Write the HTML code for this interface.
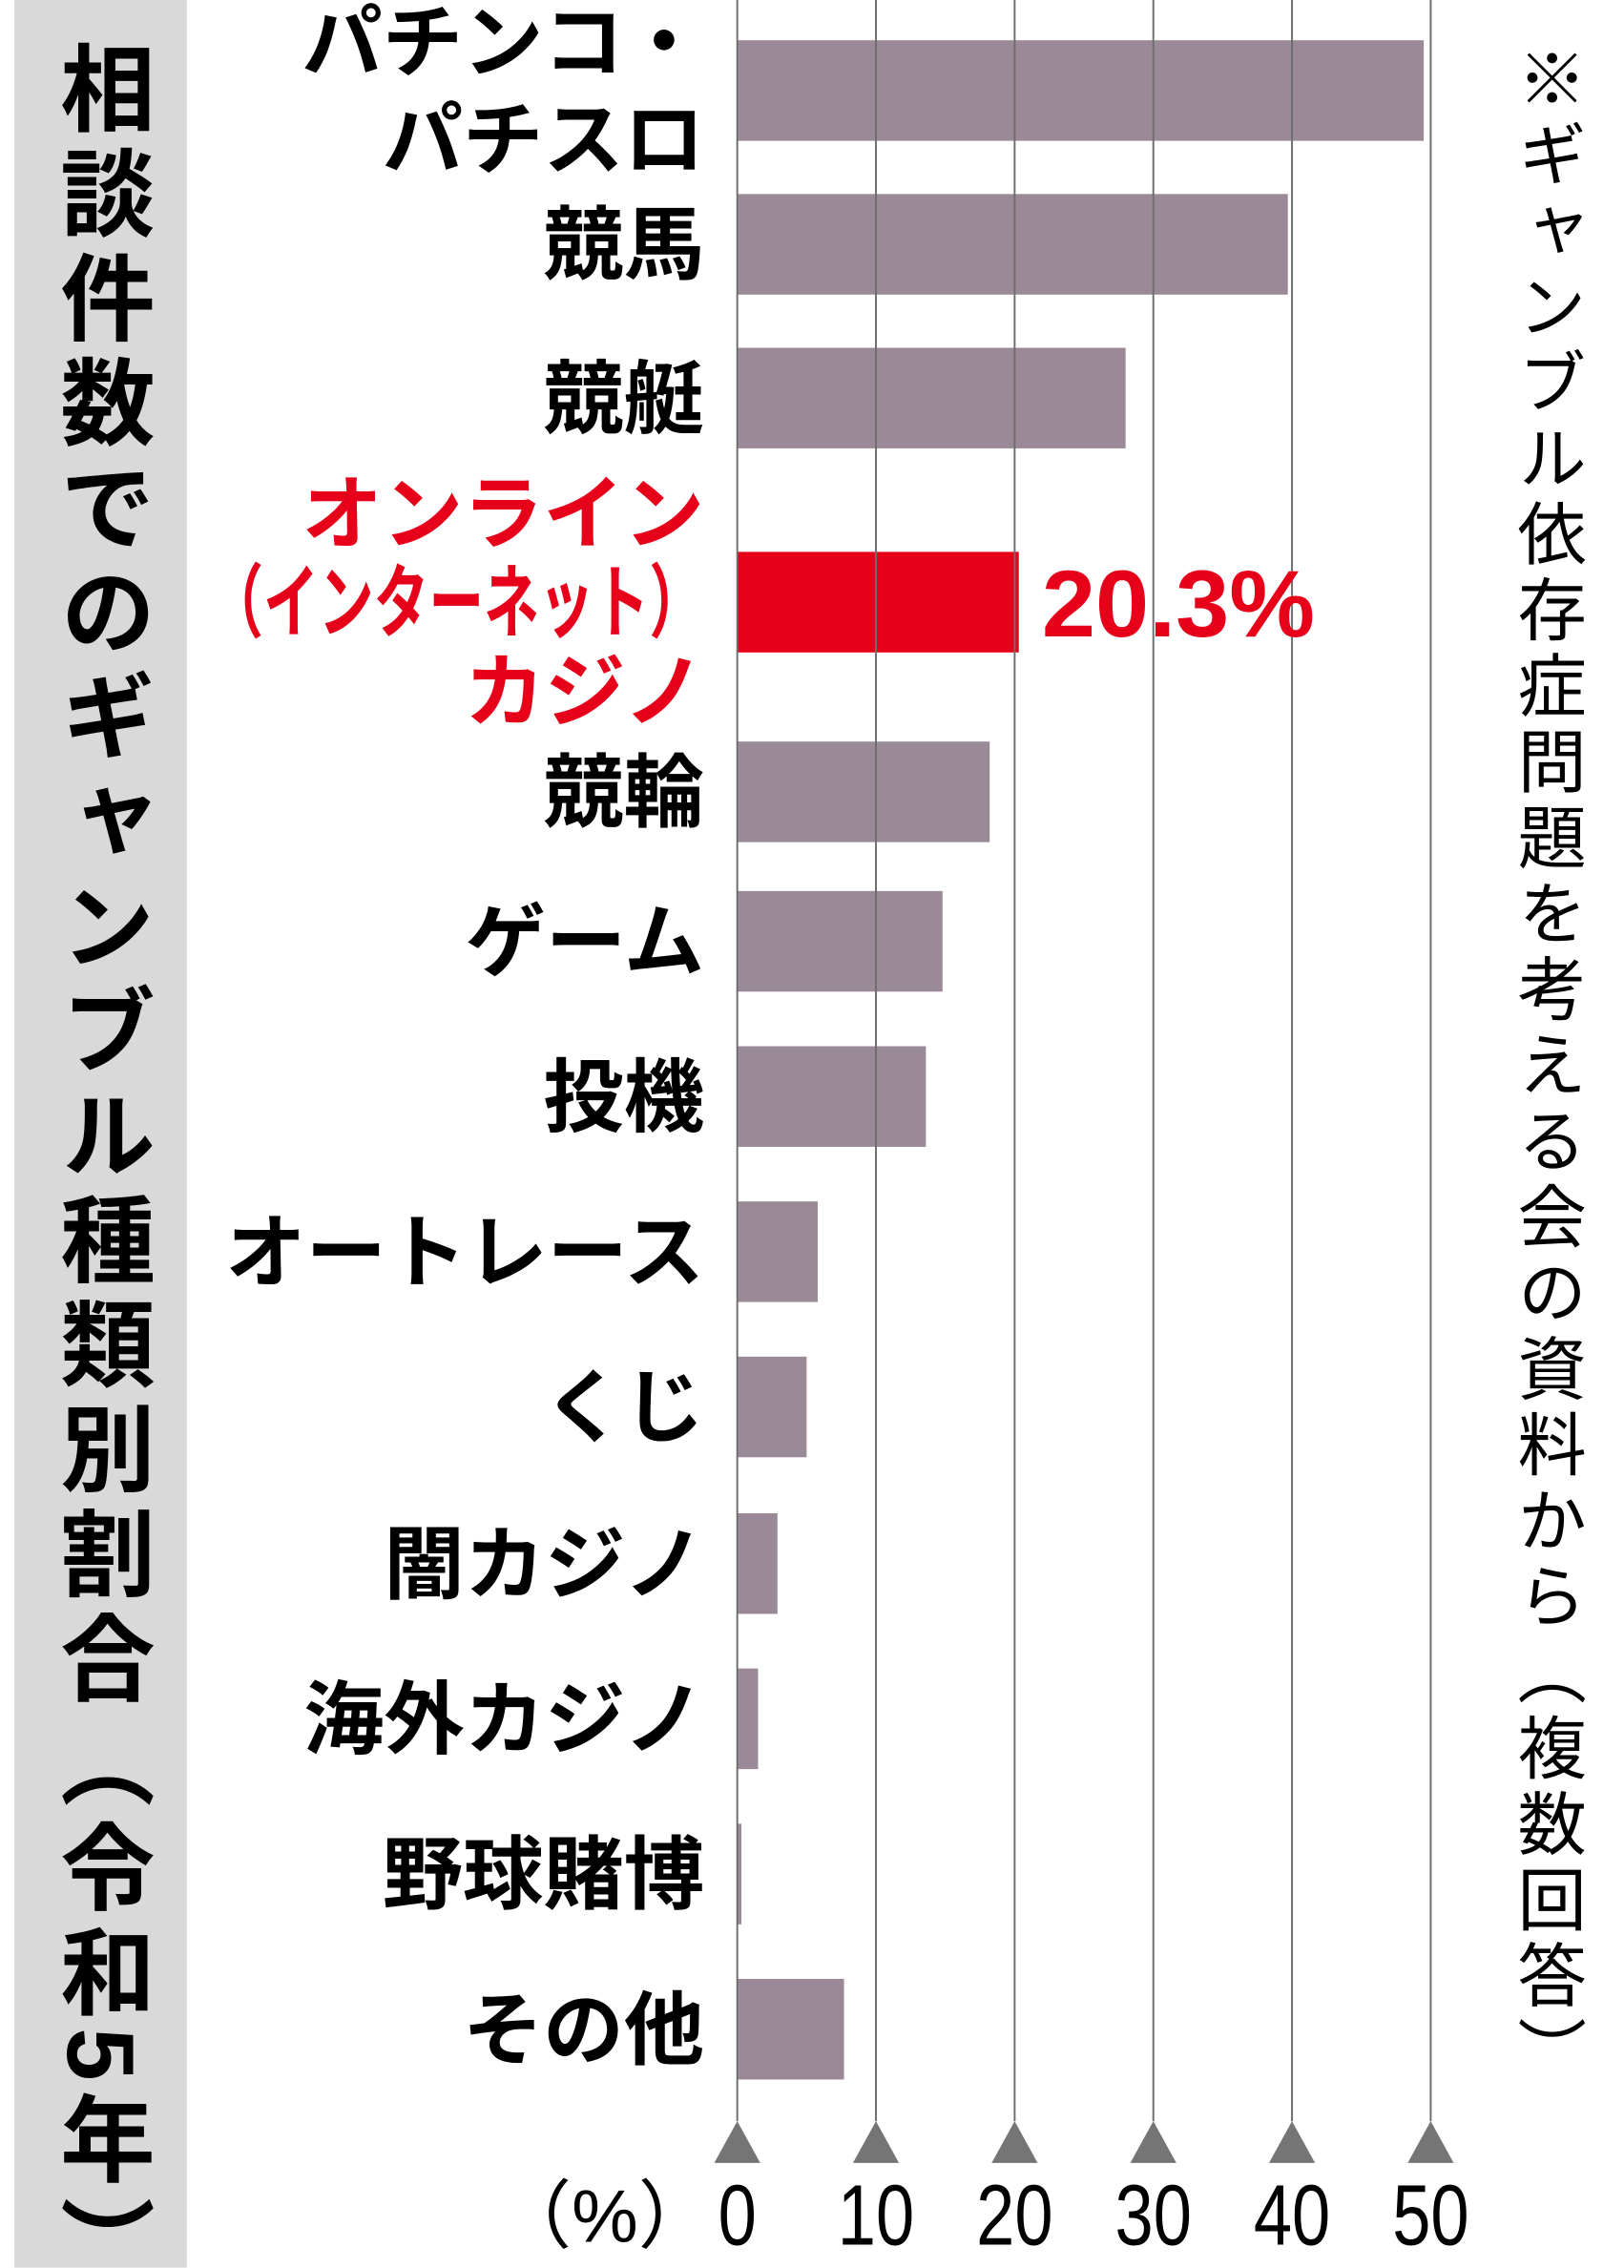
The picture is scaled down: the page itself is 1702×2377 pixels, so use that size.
<!DOCTYPE html>
<html><head><meta charset="utf-8"><style>
html,body{margin:0;padding:0;background:#fff;}
#root{position:relative;width:1130px;height:1578px;transform:scale(1.50619);transform-origin:0 0;overflow:hidden;font-family:"Liberation Sans","Noto Sans CJK JP",sans-serif;}
.vt{position:absolute;writing-mode:vertical-rl;white-space:nowrap;}
svg{position:absolute;left:0;top:0;}
</style></head><body>
<div id="root">
<div style="position:absolute;left:10px;top:0;width:120px;height:1578px;background:#d9d9d9;"></div>
<div class="vt" style="left:36px;top:28px;font-size:66px;font-weight:bold;letter-spacing:6.8px;line-height:68px;">相談件数でのギャンブル種類別割合（令和5年）</div>
<div class="vt" style="left:1048px;top:30px;font-size:48px;letter-spacing:4.8px;line-height:52px;">※ギャンブル依存症問題を考える会の資料から（複数回答）</div>
<svg id="chart" width="1130" height="1578" viewBox="0 0 1130 1578"></svg>
</div>
<script>
const categories = [["パチンコ・","パチスロ"],["競馬"],["競艇"],["オンライン","（インターネット）","カジノ"],["競輪"],["ゲーム"],["投機"],["オートレース"],["くじ"],["闇カジノ"],["海外カジノ"],["野球賭博"],["その他"]];
const values = [49.5,39.7,28.0,20.3,18.2,14.8,13.6,5.8,5.0,2.9,1.5,0.3,7.7];
const highlight = [false,false,false,true,false,false,false,false,false,false,false,false,false];
const ticks = [0,10,20,30,40,50];
const highlightLabel = "20.3%";

const NS="http://www.w3.org/2000/svg";
const svg=document.getElementById('chart');
const x0=513, pxPer=9.65;
const xs=v=>x0+v*pxPer;
const centers=[63,170,277,419,551,655,763,871,979,1088,1196,1304,1412];
const ys=i=>centers[i];
function mk(tag,attrs){const e=document.createElementNS(NS,tag);for(const k in attrs)e.setAttribute(k,attrs[k]);svg.appendChild(e);return e;}
values.forEach((v,i)=>{
  const r=mk('rect',{x:xs(0),y:ys(i)-35,width:xs(v)-xs(0),height:70,fill:highlight[i]?'#e60019':'#9a8a98'});
  
  
});
ticks.forEach(t=>{
  const l=mk('line',{x1:xs(t),x2:xs(t),y1:0,y2:1476,stroke:'#6e6e6e','stroke-width':1.3});
  
  
  const p=mk('polygon',{points:`${xs(t)-16},1505 ${xs(t)+16},1505 ${xs(t)},1476`,fill:'#757575'});
  
  
  const tx=mk('text',{x:xs(t),y:1562,'text-anchor':'middle','font-size':60,'font-family':'"Liberation Sans",sans-serif',fill:'#000',transform:`translate(${xs(t)},0) scale(0.8,1) translate(${-xs(t)},0)`});
  tx.textContent=t;
  
  
});
const pu=mk('text',{x:496,y:1560,'text-anchor':'end','font-size':52,fill:'#000','font-family':'"Liberation Sans","Noto Sans CJK JP",sans-serif'});
pu.textContent='（%）';


categories.forEach((lines,i)=>{
  const n=lines.length, lh=n===3?62:68;
  lines.forEach((s,j)=>{
    const cy=ys(i)+(j-(n-1)/2)*lh;
    const t=mk('text',{x:490,y:cy+20,'text-anchor':'end','font-size':56,'font-weight':'bold',fill:highlight[i]?'#e60019':'#000','font-family':'"Liberation Sans","Noto Sans CJK JP",sans-serif'});
    t.textContent=s;
    if(s.length>8){t.setAttribute('textLength',345);t.setAttribute('lengthAdjust','spacingAndGlyphs');}
    
    
  });
});
const hi=highlight.indexOf(true);
const hv=mk('text',{x:xs(values[hi])+16,y:ys(hi)+24,'font-size':66,'font-weight':'bold',fill:'#e60019',textLength:190,lengthAdjust:'spacingAndGlyphs','font-family':'"Liberation Sans",sans-serif'});
hv.textContent=highlightLabel;


</script>
</body></html>
